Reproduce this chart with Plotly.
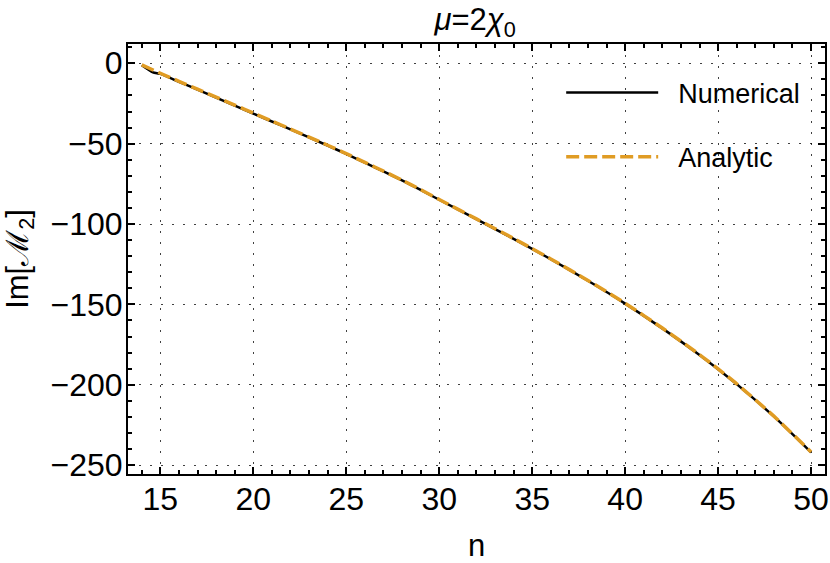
import plotly.graph_objects as go

# values
n_num = [14, 14.6, 15, 16, 17, 18, 19, 20, 21, 22, 23, 24, 25, 26, 27, 28, 29, 30,
         32, 34, 35, 36, 38, 40, 42, 44, 45, 46, 48, 50]
im_num = [-1.2, -5.6, -6.6, -11.5, -16.4, -21.3, -26.3, -31.3, -36.2, -41.1, -46.1, -51.2,
          -56.4, -61.8, -67.3, -72.9, -78.8, -84.9, -97.0, -109.2, -115.5, -121.9, -135.3,
          -149.5, -164.9, -181.4, -190.3, -199.6, -219.7, -242.0]

n_ana = [14, 15, 16, 17, 18, 19, 20, 21, 22, 23, 24, 25, 26, 27, 28, 29, 30,
         32, 34, 35, 36, 38, 40, 42, 44, 45, 46, 48, 50]
im_ana = [-1.0, -6.2, -11.2, -16.1, -21.0, -26.0, -31.0, -35.9, -40.9, -45.9, -51.0,
          -56.2, -61.6, -67.1, -72.7, -78.6, -84.7, -96.8, -109.0, -115.3, -121.7, -135.1,
          -149.3, -164.7, -181.2, -190.1, -199.4, -219.5, -241.8]

x_ticks = [15, 20, 25, 30, 35, 40, 45, 50]
y_ticks = [0, -50, -100, -150, -200, -250]

FONT = "Liberation Sans, Arial, sans-serif"
ORANGE = "#E09C24"
PAD = "\u00a0" * 2  # gap between legend line and its label

fig = go.Figure()
fig.add_trace(go.Scatter(x=n_num, y=im_num, mode="lines", name=PAD + "Numerical",
                         legendgroup="a", line=dict(color="black", width=2.5, shape="spline", smoothing=0.6)))
fig.add_trace(go.Scatter(x=n_ana, y=im_ana, mode="lines", name=PAD + "Analytic",
                         legendgroup="b", line=dict(color=ORANGE, width=3.5, dash="13px,5px",
                                                    shape="spline", smoothing=0.6)))

axis_common = dict(
    showline=True, linecolor="black", linewidth=2, mirror="allticks",
    ticks="inside", ticklen=7, tickwidth=1.5, tickcolor="black",
    showgrid=True, gridcolor="rgba(0,0,0,0.75)", gridwidth=1.2, griddash="2px,9px",
    zeroline=False, tickfont=dict(size=32, color="black", family=FONT),
    automargin=False,
)

fig.update_xaxes(
    range=[13.26, 50.75], tickvals=x_ticks,
    minor=dict(dtick=1, ticks="inside", ticklen=4, tickcolor="black", showgrid=False),
    title=dict(text="n", font=dict(size=31, color="black", family=FONT), standoff=32),
    ticklabelstandoff=-4,
    **axis_common,
)
fig.update_yaxes(
    range=[-255.5, 12], tickvals=y_ticks, tickformat="d",
    minor=dict(dtick=10, ticks="inside", ticklen=4, tickcolor="black", showgrid=False),
    title=dict(text="Im[ℳ<sub>2</sub>]", font=dict(size=31, color="black", family=FONT), standoff=15),
    ticklabelstandoff=-3,
    **axis_common,
)

fig.update_layout(
    width=830, height=563,
    margin=dict(l=128, r=5, t=44, b=89),
    paper_bgcolor="white", plot_bgcolor="white",
    font=dict(family=FONT, color="black"),
    title=dict(text="<i>μ</i>=2<i>χ</i><sub>0</sub>", x=0.5725, xanchor="center",
               y=0.946, yanchor="bottom", font=dict(size=31, color="black", family=FONT)),
    legend=dict(x=0.6215, y=0.943, xanchor="left", yanchor="top", bgcolor="rgba(0,0,0,0)",
                font=dict(size=27, color="black", family=FONT), itemwidth=92,
                tracegroupgap=26, traceorder="grouped"),
)

# drop the default page margin so the figure sits at the window's corner
fig.write_html("out.html", config={"displayModeBar": False},
               post_script="document.body.style.margin='0';")
